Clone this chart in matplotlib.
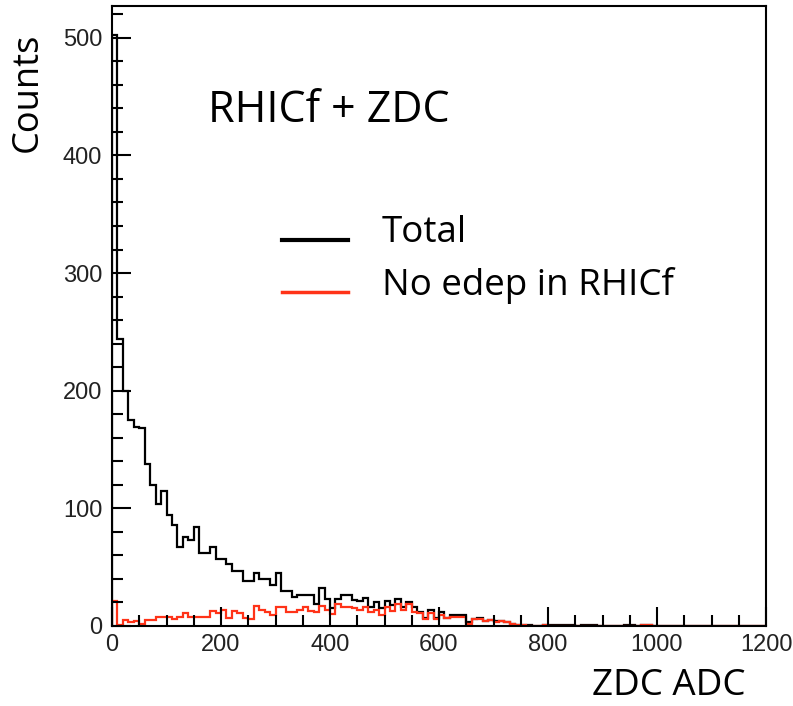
import numpy as np
import matplotlib
matplotlib.use("Agg")
import matplotlib.pyplot as plt
from matplotlib.ticker import MultipleLocator

# =============================================================================
# data (10 ADC wide bins, 0 - 1200)
# =============================================================================
bin_edges = np.arange(0, 1210, 10)

total = [502, 244, 200, 175, 169, 168, 138, 120, 104, 115,
         94, 86, 67, 76, 73, 84, 62, 62, 67, 57,
         57, 53, 47, 47, 38, 38, 45, 40, 40, 35,
         45, 30, 30, 25, 26, 26, 26, 19, 32, 23,
         15, 23, 26, 26, 22, 21, 24, 16, 20, 15,
         21, 18, 23, 16, 20, 16, 12, 7, 14, 7,
         12, 7, 9, 9, 9, 3, 6, 7, 4, 5,
         4, 4, 3, 2, 1, 1, 1, 0, 0, 1,
         1, 1, 1, 1, 1, 0, 1, 1, 1, 0,
         0, 0, 0, 0, 1, 1, 0, 1, 1, 0,
         0, 0, 0, 0, 0, 0, 0, 0, 0, 0,
         0, 0, 0, 0, 0, 0, 0, 0, 0, 0]

no_edep = [21, 1, 5, 3, 4, 2, 5, 5, 8, 8,
           8, 6, 8, 11, 8, 8, 8, 8, 13, 11,
           14, 7, 13, 11, 7, 6, 17, 14, 12, 9,
           16, 16, 12, 12, 14, 16, 13, 12, 17, 14,
           10, 19, 16, 16, 15, 14, 16, 12, 14, 9,
           16, 13, 19, 14, 19, 12, 11, 6, 11, 6,
           9, 7, 8, 8, 8, 2, 6, 6, 4, 5,
           3, 4, 3, 2, 1, 1, 0, 0, 0, 1,
           0, 0, 0, 0, 0, 0, 0, 0, 0, 0,
           0, 0, 0, 0, 0, 0, 0, 1, 1, 0,
           0, 0, 0, 0, 0, 0, 0, 0, 0, 0,
           0, 0, 0, 0, 0, 0, 0, 0, 0, 0]

labels = ["Total", "No edep in RHICf"]
colors = ["black", "#ff3318"]

# =============================================================================
# plot
# =============================================================================
W, H = 793, 706
fig = plt.figure(figsize=(W/100, H/100), dpi=100)
ax = fig.add_axes([112/W, 1 - 626/H, (766 - 112)/W, (626 - 6)/H])

ax.stairs(total, bin_edges, color=colors[0], lw=1.6, baseline=0)
ax.stairs(no_edep, bin_edges, color=colors[1], lw=1.6, baseline=0)

ax.set_xlim(0, 1200)
ax.set_ylim(0, 527)

ax.xaxis.set_major_locator(MultipleLocator(200))
ax.xaxis.set_minor_locator(MultipleLocator(50))
ax.yaxis.set_major_locator(MultipleLocator(100))
ax.yaxis.set_minor_locator(MultipleLocator(20))
ax.tick_params(which='both', direction='in', top=False, right=False,
               width=1.5, labelsize=17, colors='black')
ax.tick_params(which='major', length=14)
ax.tick_params(which='minor', length=8)
ax.tick_params(axis='x', pad=6)
ax.tick_params(axis='y', pad=7)
for lab in ax.get_xticklabels() + ax.get_yticklabels():
    lab.set_family('Liberation Sans')
    lab.set_color('#222222')
for s in ax.spines.values():
    s.set_linewidth(1.5)

tf = 'Open Sans'
fig.text(28/W, 1 - 33/H, "Counts", rotation=90, ha='center', va='top',
         fontsize=26, family=tf)
fig.text(746/W, 1 - 686/H, "ZDC ADC", ha='right', va='center',
         fontsize=26.5, family=tf)
fig.text(208/W, 1 - 111/H, "RHICf + ZDC", ha='left', va='center',
         fontsize=31, family=tf)

# legend drawn by hand
for yy, lab, c, lw in [(240, labels[0], colors[0], 3.0), (292, labels[1], colors[1], 2.5)]:
    fig.add_artist(plt.Line2D([282/W, 348/W], [1 - yy/H, 1 - yy/H], color=c, lw=lw))
    fig.text(382/W, 1 - (yy - 7)/H, lab, ha='left', va='center', fontsize=26.5, family=tf)

fig.savefig("out.png", dpi=100)
